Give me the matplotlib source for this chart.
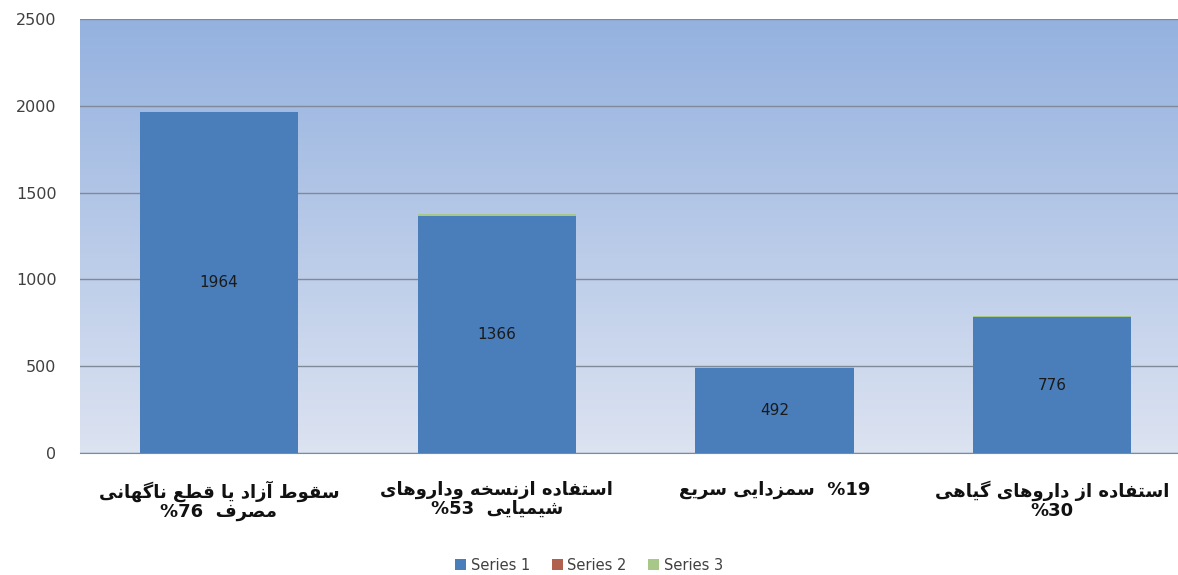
import numpy as np
import matplotlib
matplotlib.use("Agg")
import matplotlib.pyplot as plt
from matplotlib.colors import LinearSegmentedColormap

# ------------------- data -------------------
categories = ["cat1", "cat2", "cat3", "cat4"]
series1 = [1964, 1366, 492, 776]
series2 = [0, 0, 0, 9]
series3 = [7, 9, 6, 4]
series_names = ["Series 1", "Series 2", "Series 3"]
yticks = [0, 500, 1000, 1500, 2000, 2500]

# label lines: (persian words, number token, number side)
label_lines = [
    [("سقوط آزاد یا قطع ناگهانی", "", ""), ("مصرف", "%76", "left")],
    [("استفاده ازنسخه وداروهای", "", ""), ("شیمیایی", "%53", "left")],
    [("سمزدایی سریع", "%19", "right")],
    [("استفاده از داروهای گیاهی", "", ""), ("", "%30", "left")],
]

# ------------------- tiny arabic/persian shaper -------------------
# isolated, final, initial, medial
FORMS = {
    "ا": ("\uFE8D", "\uFE8E", None, None),
    "آ": ("\uFE81", "\uFE82", None, None),
    "ب": ("\uFE8F", "\uFE90", "\uFE91", "\uFE92"),
    "ت": ("\uFE95", "\uFE96", "\uFE97", "\uFE98"),
    "خ": ("\uFEA5", "\uFEA6", "\uFEA7", "\uFEA8"),
    "د": ("\uFEA9", "\uFEAA", None, None),
    "ر": ("\uFEAD", "\uFEAE", None, None),
    "ز": ("\uFEAF", "\uFEB0", None, None),
    "س": ("\uFEB1", "\uFEB2", "\uFEB3", "\uFEB4"),
    "ش": ("\uFEB5", "\uFEB6", "\uFEB7", "\uFEB8"),
    "ص": ("\uFEB9", "\uFEBA", "\uFEBB", "\uFEBC"),
    "ط": ("\uFEC1", "\uFEC2", "\uFEC3", "\uFEC4"),
    "ع": ("\uFEC9", "\uFECA", "\uFECB", "\uFECC"),
    "ف": ("\uFED1", "\uFED2", "\uFED3", "\uFED4"),
    "ق": ("\uFED5", "\uFED6", "\uFED7", "\uFED8"),
    "م": ("\uFEE1", "\uFEE2", "\uFEE3", "\uFEE4"),
    "ن": ("\uFEE5", "\uFEE6", "\uFEE7", "\uFEE8"),
    "ه": ("\uFEE9", "\uFEEA", "\uFEEB", "\uFEEC"),
    "و": ("\uFEED", "\uFEEE", None, None),
    "ی": ("\uFBFC", "\uFBFD", "\uFBFE", "\uFBFF"),
    "گ": ("\uFB92", "\uFB93", "\uFB94", "\uFB95"),
}


def shape_rtl(txt):
    out = []
    for i, ch in enumerate(txt):
        if ch not in FORMS:
            out.append(ch)
            continue
        prev = txt[i - 1] if i > 0 else ""
        nxt = txt[i + 1] if i + 1 < len(txt) else ""
        join_prev = prev in FORMS and FORMS[prev][2] is not None
        join_next = FORMS[ch][2] is not None and nxt in FORMS
        iso, fin, ini, med = FORMS[ch]
        if join_prev and join_next:
            out.append(med)
        elif join_prev:
            out.append(fin)
        elif join_next:
            out.append(ini)
        else:
            out.append(iso)
    return "".join(out)[::-1]


def visual_line(words, num, side):
    s = shape_rtl(words)
    if not num:
        return s
    if not s:
        return num
    if side == "left":
        return num + "  " + s
    return s + "  " + num


tick_labels = ["\n".join(visual_line(*ln) for ln in lines) for lines in label_lines]

# ------------------- figure -------------------
plt.rcParams["font.family"] = ["DejaVu Sans"]
fig = plt.figure(figsize=(11.78, 5.75), dpi=100)
ax = fig.add_axes([0.068, 0.212, 0.943, 0.755])

x = np.arange(len(categories))
w = 0.57
b1 = ax.bar(x, series1, w, color="#4A7EBB", label=series_names[0], zorder=3)
b2 = ax.bar(x, series2, w, bottom=series1, color="#B0604D", label=series_names[1], zorder=3)
bot3 = [a + b for a, b in zip(series1, series2)]
b3 = ax.bar(x, series3, w, bottom=bot3, color="#A8C88A", label=series_names[2], zorder=3)

for xi, v in zip(x, series1):
    ax.text(xi, v / 2, str(v), ha="center", va="center", fontsize=11, color="#1a1a1a", zorder=4)

ax.set_xlim(-0.5, 3.5)
ax.set_ylim(0, 2500)

# gradient plot background
cmap = LinearSegmentedColormap.from_list("bg", ["#DCE3F1", "#94B1DF"])
grad = np.linspace(0, 1, 256).reshape(-1, 1)
ax.imshow(grad, cmap=cmap, aspect="auto", extent=[-0.5, 3.5, 0, 2500],
          origin="lower", zorder=0)

ax.set_yticks(yticks)
ax.set_yticklabels([str(t) for t in yticks], fontsize=11.5, color="#404040")
ax.yaxis.grid(True, color="#7F8A99", linewidth=1.0, zorder=1)
ax.set_axisbelow(True)
ax.tick_params(axis="y", length=0, pad=17)
ax.tick_params(axis="x", length=0, pad=20)
for side in ["left", "right", "top"]:
    ax.spines[side].set_visible(False)
ax.spines["bottom"].set_color("#7F8A99")

ax.set_xticks(x)
ax.set_xticklabels(tick_labels, fontsize=13, fontweight="bold", color="#111111",
                   multialignment="center", linespacing=1.05)

fig.legend(handles=[b1, b2, b3], labels=series_names, loc="center", ncol=3,
           bbox_to_anchor=(0.5, 0.017), frameon=False, fontsize=10.5,
           handlelength=0.75, handleheight=0.75, handletextpad=0.3,
           columnspacing=1.5, labelcolor="#404040")

fig.savefig("out.png", dpi=100, facecolor="white")
